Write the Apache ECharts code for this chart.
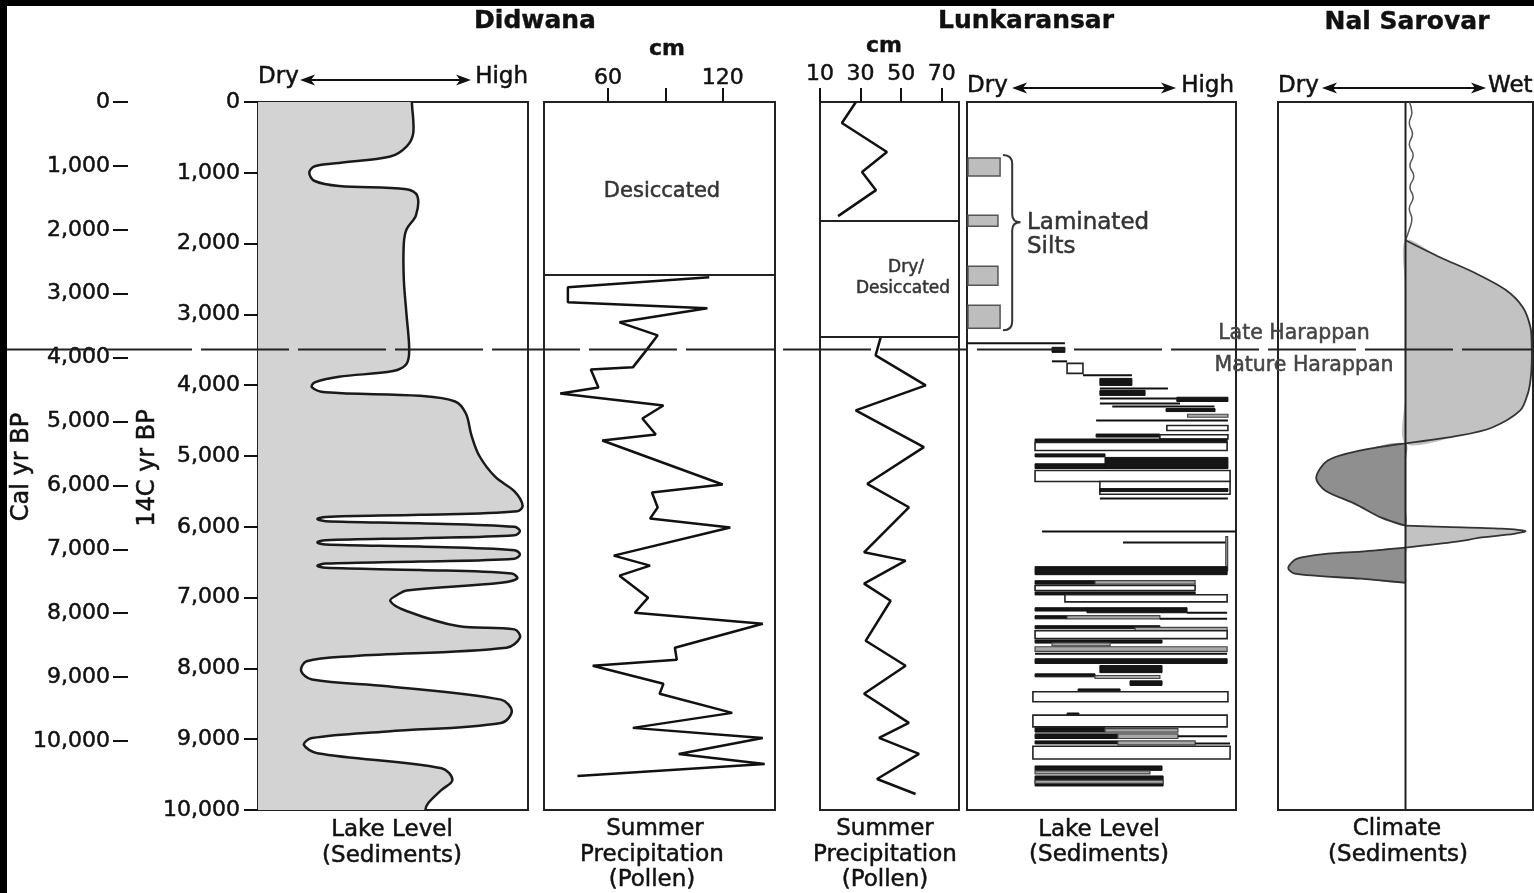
<!DOCTYPE html>
<html><head><meta charset="utf-8">
<script src="https://cdn.jsdelivr.net/npm/echarts@6/dist/echarts.min.js"></script>
<style>html,body{margin:0;padding:0;background:#fff;}#c{width:1534px;height:893px;}</style>
</head><body><div id="c"></div>
<script>
// ---------- DATA ----------
const ageTicks = [0,1000,2000,3000,4000,5000,6000,7000,8000,9000,10000];
const calTicks = [0,1000,2000,3000,4000,5000,6000,7000,8000,9000,10000];
const didwanaPrecipTicks = [60,90,120];
const didwanaPrecipLabels = [60,120];
const lunkPrecipTicks = [10,30,50,70];
const harappanAge = 3494;
const didwanaDesiccatedAge = 2447;
const lunkDryTopAge = 1683;
const lunkDryBottomAge = 3310;

// Didwana lake level (0 = dry, 100 = high) vs 14C yr BP
const didwanaAge = [0,440,630,770,860,907,1000,1116,1186,1233,1326,1600,1800,2000,2500,3000,3500,3700,3800,3880,3960,4030,4100,4150,4230,4400,4700,5000,5300,5500,5700,5780,5830,5860,5890,5920,5950,6000,6060,6120,6160,6190,6220,6250,6280,6330,6390,6450,6490,6520,6550,6580,6610,6660,6730,6790,6900,6953,7047,7189,7402,7449,7567,7709,7827,7898,8039,8157,8252,8441,8606,8771,8890,8984,9079,9197,9409,9575,9716,9905,10000];
const didwanaLevel = [57,57.5,55,49,30,21,19,21,30,55,59,58.5,55,54,54,55,56,55,50,30,21,20,25,60,73,77,79,82,88,95,98,96,60,25,22,25,60,95,97,95,60,25,22,25,60,95,97,95,60,25,22,25,60,94,96,90,55,52,49,55,74,95,97,92,35,18,16,20,48,90,94,90,48,20,17,22,68,72,68,63,62];

// Didwana summer precipitation (cm)
const didwanaPrecipAge = [2475,2617,2829,2914,3112,3296,3508,3748,3777,4031,4116,4286,4470,4696,4781,5403,5516,5728,5884,6011,6407,6549,6690,7001,7214,7369,7709,7878,7963,8218,8359,8628,8840,8982,9208,9349,9519];
const didwanaPrecipCm = [113,39,39,112,66,86,80,73,51,55,35,89,78,85,57,120,83,86,82,124,63,82,66,81,74,141,95,96,52,89,87,125,73,141,97,142,44];

// Lunkaransar summer precipitation (cm)
const lunkPrecipTopAge = [0,297,707,990,1245,1612];
const lunkPrecipTopCm = [27.7,20.8,43,30.7,37.6,18.9];
const lunkPrecipAge = [3324,3579,4003,4356,4875,5393,5724,6360,6478,6803,7044,7610,7963,8359,8769,8982,9208,9562,9774];
const lunkPrecipCm = [39.9,37.4,62.1,27.6,61.2,33.3,53.8,31.7,52.2,31.7,44.8,32.5,52.2,31.7,53.8,39.1,58.8,38.1,57.1];

// Lunkaransar lake level rows (0 = dry, 100 = high); type 0 line, 1 black, 2 grey, 3 open
const lunkRowTop    = [3409,3465,3663,3692,3861,3904,4045,4073,4187,4170,4257,4300,4330,4410,4498,4569,4690,4700,4760,4810,4970,5020,5110,5205,5360,5460,5600,6068,6223,6138,6563,6761,6761,6830,6920,6960,7143,7143,7214,7256,7256,7300,7397,7420,7468,7600,7640,7694,7793,7864,7960,8077,8100,8176,8290,8330,8630,8660,8840,8850,8925,8925,8960,9024,9024,9060,9100,9378,9448,9519,9580];
const lunkRowBottom = [3409,3536,3663,3833,3861,4003,4045,4144,4187,4230,4257,4300,4370,4440,4498,4639,4730,4760,4810,4922,5010,5177,5177,5360,5540,5500,5600,6068,6223,6620,6676,6810,6810,6900,6960,7060,7190,7214,7214,7300,7300,7300,7440,7468,7580,7640,7680,7760,7793,7930,8060,8110,8140,8240,8320,8470,8660,8826,8900,8900,8990,8990,8960,9060,9080,9060,9280,9440,9491,9661,9600];
const lunkRowStart  = [0,31.6,31.6,37.2,43.1,49.4,49.4,49.4,49.4,78,49.4,54,74,82,48,74.3,48,71.7,25.3,25.3,25.3,51.3,25.3,25.3,49.4,49.4,49.4,27.9,58,96.2,25.3,25.3,47.6,25.3,25.3,36.4,25.3,44.6,81.8,25.3,37.2,71.7,25.3,62.5,25.3,25.3,31.6,25.3,25.3,25.3,49.4,25.3,47.6,60.6,41.3,24.5,37.2,24.5,25.3,51.3,25.3,56.1,78.4,25.3,56.1,84.8,24.5,25.3,25.3,25.3,25.3];
const lunkRowEnd    = [36.4,36.4,37.2,43.1,61.3,61.3,74.7,66.2,78,97,79.2,92,92.2,97,97,97,71.7,97,96.7,96.7,51.3,97,51.3,97.8,97.8,97,97,100,96.7,96.9,96.7,47.6,84.8,84.8,84.8,96.7,44.6,81.8,96.7,37.2,71.7,96.7,71.7,96.7,96.7,72.5,53.2,96.7,96.7,96.7,72.5,47.6,71.7,72.5,56.9,97,41.6,96.7,51.3,78.4,56.1,78.4,96.7,56.1,84.8,97.8,97.8,72.5,68,72.9,72.9];
const lunkRowType   = [0,1,0,3,0,1,0,1,0,1,0,0,1,2,0,3,1,3,1,3,1,1,1,3,3,1,0,0,0,2,1,1,2,3,1,3,1,1,0,1,2,0,1,2,3,1,2,2,0,1,1,1,2,1,1,3,1,3,1,2,1,2,0,1,2,0,3,1,2,1,2];

// Laminated silts
const laminatedTop = [792,1598,2320,2871];
const laminatedBottom = [1046,1754,2588,3197];
const laminatedEnd = [12.3,11.5,11.5,12.3];
const bracketAge = [750,1697,3225];
const bracketLevel = [13.4,16.8,19.9];

// Nal Sarovar climate index (-1 dry ... +1 wet)
const nalWiggleAge = [0,150,300,450,600,750,900,1050,1200,1350,1500,1650,1800,1952];
const nalWiggleIndex = [0.03,0.05,0.03,0.055,0.03,0.06,0.035,0.065,0.035,0.06,0.03,0.05,0.03,0.0];
const nalAge = [1952,2192,2419,2659,2900,3182,3437,3700,3932,4116,4356,4597,4710,4823,4922,5064,5304,5488,5672,5870,5983,6000,6025,6060,6100,6150,6210,6294,6350,6379,6450,6577,6662,6733,6790];
const nalIndex = [0,0.27,0.55,0.79,0.92,0.98,0.99,0.99,0.98,0.96,0.9,0.68,0.43,0,-0.35,-0.61,-0.70,-0.63,-0.40,-0.19,0,0.3,0.75,0.94,0.85,0.6,0.4,0,-0.35,-0.61,-0.85,-0.92,-0.87,-0.35,0];

// ---------- CHART ----------
const FONT = '"DejaVu Sans", "Liberation Sans", Arial, sans-serif';
const chart = echarts.init(document.getElementById('c'), null, {renderer:'canvas', width:1534, height:893});
const TOP = 102, H = 708;
const panels = [[258,270],[544,231],[820,139],[967,269],[1278,255]];
const grids = panels.map(p => ({left:p[0], top:TOP, width:p[1], height:H, show:true, borderColor:'#222', borderWidth:2, backgroundColor:'#fff', containLabel:false, outerBoundsMode:'none'}));

const fmt = v => v.toLocaleString('en-US');
const labelStyle = {fontFamily:FONT, fontSize:22, color:'#111', textBorderColor:'#111', textBorderWidth:0.5};

const xAxes = [
  {gridIndex:0, type:'value', min:0, max:100, show:false},
  {gridIndex:1, type:'value', min:26.5, max:147.4, position:'top', axisLine:{show:false}, splitLine:{show:false},
   axisTick:{show:true, inside:false, length:14, customValues:didwanaPrecipTicks, lineStyle:{color:'#111', width:2}},
   axisLabel:Object.assign({customValues:didwanaPrecipLabels, margin:13}, labelStyle)},
  {gridIndex:2, type:'value', min:10, max:78.5, position:'top', axisLine:{show:false}, splitLine:{show:false},
   axisTick:{show:true, inside:false, length:14, customValues:lunkPrecipTicks, lineStyle:{color:'#111', width:2}},
   axisLabel:Object.assign({customValues:lunkPrecipTicks, margin:17}, labelStyle)},
  {gridIndex:3, type:'value', min:0, max:100, show:false},
  {gridIndex:4, type:'value', min:-1, max:1, show:false}
];
const yAxes = [
  {gridIndex:0, type:'value', min:0, max:10000, interval:1000, inverse:true, position:'left',
   axisLine:{show:true, lineStyle:{color:'#222', width:2}}, splitLine:{show:false},
   axisTick:{show:true, inside:false, length:14, customValues:ageTicks, lineStyle:{color:'#111', width:2}},
   axisLabel:Object.assign({customValues:ageTicks, margin:18, formatter:fmt}, labelStyle)},
  {gridIndex:0, type:'value', min:0, max:11080, inverse:true, position:'left', offset:130,
   axisLine:{show:false}, splitLine:{show:false},
   axisTick:{show:true, inside:false, length:15, customValues:calTicks, lineStyle:{color:'#111', width:2}},
   axisLabel:Object.assign({customValues:calTicks, margin:18, formatter:fmt}, labelStyle)},
  {gridIndex:1, type:'value', min:0, max:10000, inverse:true, show:false},
  {gridIndex:2, type:'value', min:0, max:10000, inverse:true, show:false},
  {gridIndex:3, type:'value', min:0, max:10000, inverse:true, show:false},
  {gridIndex:4, type:'value', min:0, max:10000, inverse:true, show:false}
];

const hLine = (age) => ({silent:true, symbol:'none', label:{show:false}, lineStyle:{color:'#222', width:2, type:'solid'}, data:[{yAxis:age}]});

// split Nal Sarovar curve into lobes at zero crossings
const nalLobes = [];
(function(){
  let cur = [[nalAge[0], nalIndex[0]]];
  for (let i = 1; i < nalAge.length; i++) {
    cur.push([nalAge[i], nalIndex[i]]);
    if (nalIndex[i] === 0) { nalLobes.push(cur); cur = [[nalAge[i], nalIndex[i]]]; }
  }
})();

const series = [
  {type:'custom', name:'Didwana lake', xAxisIndex:0, yAxisIndex:0, clip:true, silent:true, data:[[0,0]],
   renderItem:function(params, api){
     if (params.dataIndex !== 0) return;
     const n = didwanaAge.length;
     const pts = [api.coord([didwanaLevel[0], -400])];
     for (let i = 0; i < n; i++) pts.push(api.coord([didwanaLevel[i], didwanaAge[i]]));
     pts.push(api.coord([didwanaLevel[n-1], 10400]));
     const fill = pts.concat([api.coord([-20, 10400]), api.coord([-20, -400])]);
     return {type:'group', children:[
       {type:'polygon', shape:{points:fill, smooth:0.35}, style:{fill:'#d3d3d3', stroke:null}},
       {type:'polyline', shape:{points:pts, smooth:0.35}, style:{fill:null, stroke:'#1a1a1a', lineWidth:2.5}}
     ]};
   }},
  {type:'line', name:'Didwana precip', xAxisIndex:1, yAxisIndex:2, showSymbol:false, symbol:'none', animation:false,
   lineStyle:{color:'#111', width:2.5}, data:didwanaPrecipAge.map((a,i)=>[didwanaPrecipCm[i], a]),
   markLine:hLine(didwanaDesiccatedAge)},
  {type:'line', name:'Lunkaransar precip top', xAxisIndex:2, yAxisIndex:3, showSymbol:false, symbol:'none', animation:false,
   lineStyle:{color:'#111', width:2.5}, data:lunkPrecipTopAge.map((a,i)=>[lunkPrecipTopCm[i], a]),
   markLine:{silent:true, symbol:'none', label:{show:false}, lineStyle:{color:'#222', width:2, type:'solid'}, data:[{yAxis:lunkDryTopAge},{yAxis:lunkDryBottomAge}]}},
  {type:'line', name:'Lunkaransar precip', xAxisIndex:2, yAxisIndex:3, showSymbol:false, symbol:'none', animation:false,
   lineStyle:{color:'#111', width:2.5}, data:lunkPrecipAge.map((a,i)=>[lunkPrecipCm[i], a])},
  {type:'custom', name:'Lunkaransar lake', xAxisIndex:3, yAxisIndex:4, clip:true, silent:true,
   encode:{x:[2,3], y:[0,1]},
   data:lunkRowTop.map((t,i)=>[t, lunkRowBottom[i], lunkRowStart[i], lunkRowEnd[i], lunkRowType[i]]),
   renderItem:function(params, api){
     const t = api.value(0), b = api.value(1), s = api.value(2), e = api.value(3), ty = api.value(4);
     const p0 = api.coord([s, t]), p1 = api.coord([e, b]);
     const w = p1[0] - p0[0];
     if (ty === 0) return {type:'rect', shape:{x:p0[0], y:p0[1]-1, width:w, height:2}, style:{fill:'#111'}};
     const h = Math.max(p1[1] - p0[1], 3);
     let style;
     if (ty === 1) style = {fill:'#151515', stroke:'#111', lineWidth:1};
     else if (ty === 2) style = {fill:'#a8a8a8', stroke:'#444', lineWidth:1.2};
     else style = {fill:'#ffffff', stroke:'#222', lineWidth:1.6};
     return {type:'rect', shape:{x:p0[0], y:p0[1], width:w, height:h}, style:style};
   }},
  {type:'custom', name:'Laminated silts', xAxisIndex:3, yAxisIndex:4, clip:true, silent:true,
   encode:{x:2, y:[0,1]},
   data:laminatedTop.map((t,i)=>[t, laminatedBottom[i], laminatedEnd[i]]),
   renderItem:function(params, api){
     const p0 = api.coord([0, api.value(0)]), p1 = api.coord([api.value(2), api.value(1)]);
     return {type:'rect', shape:{x:p0[0]+1, y:p0[1], width:p1[0]-p0[0]-1, height:p1[1]-p0[1]}, style:{fill:'#bdbdbd', stroke:'#555', lineWidth:1.5}};
   }},
  {type:'custom', name:'Bracket', xAxisIndex:3, yAxisIndex:4, clip:false, silent:true, data:[[0,0]],
   renderItem:function(params, api){
     const x0 = api.coord([bracketLevel[0], 0])[0], xm = api.coord([bracketLevel[1], 0])[0], xt = api.coord([bracketLevel[2], 0])[0];
     const yT = api.coord([0, bracketAge[0]])[1], yM = api.coord([0, bracketAge[1]])[1], yB = api.coord([0, bracketAge[2]])[1];
     const d = `M${x0},${yT} Q${xm},${yT} ${xm},${yT+9} L${xm},${yM-8} Q${xm},${yM} ${xt},${yM} Q${xm},${yM} ${xm},${yM+8} L${xm},${yB-9} Q${xm},${yB} ${x0},${yB}`;
     return {type:'path', shape:{pathData:d}, style:{fill:null, stroke:'#333', lineWidth:2}};
   }},
  {type:'custom', name:'Nal Sarovar', xAxisIndex:4, yAxisIndex:5, clip:true, silent:true, data:[[0,0]],
   renderItem:function(params, api){
     const children = [];
     nalLobes.forEach(l => {
       const sign = l.reduce((m,p)=>Math.abs(p[1])>Math.abs(m)?p[1]:m, 0) > 0 ? 1 : -1;
       const pts = l.map(p => api.coord([p[1], p[0]]));
       const fillPts = pts.slice();
       const a0 = l[0][0], a1 = l[l.length-1][0];
       for (let k = 1; k <= 3; k++) fillPts.push(api.coord([0, a1 - (a1-a0)*k/4]));
       children.push({type:'polygon', shape:{points:fillPts, smooth:0.3}, style:{fill: sign > 0 ? '#c2c2c2' : '#8f8f8f', stroke:null}});
       children.push({type:'polyline', shape:{points:pts, smooth:0.3}, style:{fill:null, stroke:'#333', lineWidth:1.8}});
     });
     const wp = nalWiggleAge.map((a,i)=>api.coord([nalWiggleIndex[i], a]));
     children.push({type:'polyline', shape:{points:wp, smooth:0.5}, style:{fill:null, stroke:'#555', lineWidth:1.5}});
     const c0 = api.coord([0, 0]), c1 = api.coord([0, 10000]);
     children.push({type:'line', shape:{x1:c0[0], y1:c0[1], x2:c1[0], y2:c1[1]}, style:{stroke:'#222', lineWidth:2}});
     return {type:'group', children:children};
   }}
];

chart.setOption({animation:false, backgroundColor:'#ffffff', grid:grids, xAxis:xAxes, yAxis:yAxes, series:series});

// ---------- ANNOTATIONS ----------
const yH = chart.convertToPixel({yAxisIndex:0}, harappanAge);
function txt(text, x, y, size, opts) {
  opts = opts || {};
  const col = opts.color || '#111';
  return {type:'text', x:x, y:y, rotation:opts.rot||0, z:120, silent:true,
    style:{text:text, font:(opts.bold?'bold ':'')+size+'px '+FONT, fill:col,
      stroke:col, lineWidth:opts.bold?0.4:0.5,
      align:opts.align||'center', textAlign:opts.align||'center', verticalAlign:'middle', textVerticalAlign:'middle'}};
}
function arrow(x1, x2, y) {
  return [
    {type:'line', z:120, silent:true, shape:{x1:x1+8, y1:y, x2:x2-8, y2:y}, style:{stroke:'#111', lineWidth:2}},
    {type:'polygon', z:120, silent:true, shape:{points:[[x1,y],[x1+15,y-5.5],[x1+11,y],[x1+15,y+5.5]]}, style:{fill:'#111'}},
    {type:'polygon', z:120, silent:true, shape:{points:[[x2,y],[x2-15,y-5.5],[x2-11,y],[x2-15,y+5.5]]}, style:{fill:'#111'}}
  ];
}
const graphics = [
  {type:'rect', z:130, silent:true, shape:{x:0, y:0, width:1534, height:6}, style:{fill:'#000'}},
  {type:'rect', z:130, silent:true, shape:{x:0, y:0, width:7, height:893}, style:{fill:'#000'}},
  {type:'line', z:110, silent:true, shape:{x1:7, y1:yH, x2:1534, y2:yH}, style:{stroke:'#222', lineWidth:2, lineDash:[88,9]}},
  txt('Didwana', 535, 21, 25, {bold:true}),
  txt('Lunkaransar', 1026, 21, 25, {bold:true}),
  txt('Nal Sarovar', 1407, 22, 25, {bold:true}),
  txt('cm', 667, 49, 22, {bold:true}),
  txt('cm', 884, 46, 22, {bold:true}),
  txt('Dry', 258, 77, 23, {align:'left'}),
  txt('High', 528, 77, 23, {align:'right'}),
  txt('Dry', 967, 86, 23, {align:'left'}),
  txt('High', 1234, 86, 23, {align:'right'}),
  txt('Dry', 1278, 86, 23, {align:'left'}),
  txt('Wet', 1488, 86, 23, {align:'left'}),
  txt('Desiccated', 662, 192, 21, {color:'#333'}),
  txt('Dry/', 906, 268, 17, {color:'#333'}),
  txt('Desiccated', 903, 289, 17, {color:'#333'}),
  txt('Laminated', 1027, 223, 23, {align:'left', color:'#333'}),
  txt('Silts', 1027, 247, 23, {align:'left', color:'#333'}),
  txt('Late Harappan', 1294, 334, 20.5, {color:'#444'}),
  txt('Mature Harappan', 1304, 366, 20.5, {color:'#444'}),
  txt('Lake Level', 392, 830, 23),
  txt('(Sediments)', 392, 856, 23),
  txt('Summer', 655, 829, 23),
  txt('Precipitation', 652, 855, 23),
  txt('(Pollen)', 652, 880, 23),
  txt('Summer', 885, 829, 23),
  txt('Precipitation', 885, 855, 23),
  txt('(Pollen)', 885, 880, 23),
  txt('Lake Level', 1099, 830, 23),
  txt('(Sediments)', 1099, 855, 23),
  txt('Climate', 1397, 829, 23),
  txt('(Sediments)', 1398, 855, 23),
  txt('Cal yr BP', 22, 467, 24, {rot:Math.PI/2}),
  txt('14C yr BP', 148, 468, 24, {rot:Math.PI/2})
].concat(arrow(300, 471, 80), arrow(1012, 1176, 88), arrow(1322, 1486, 88));
chart.setOption({graphic:{elements:graphics}});
</script>
</body></html>
